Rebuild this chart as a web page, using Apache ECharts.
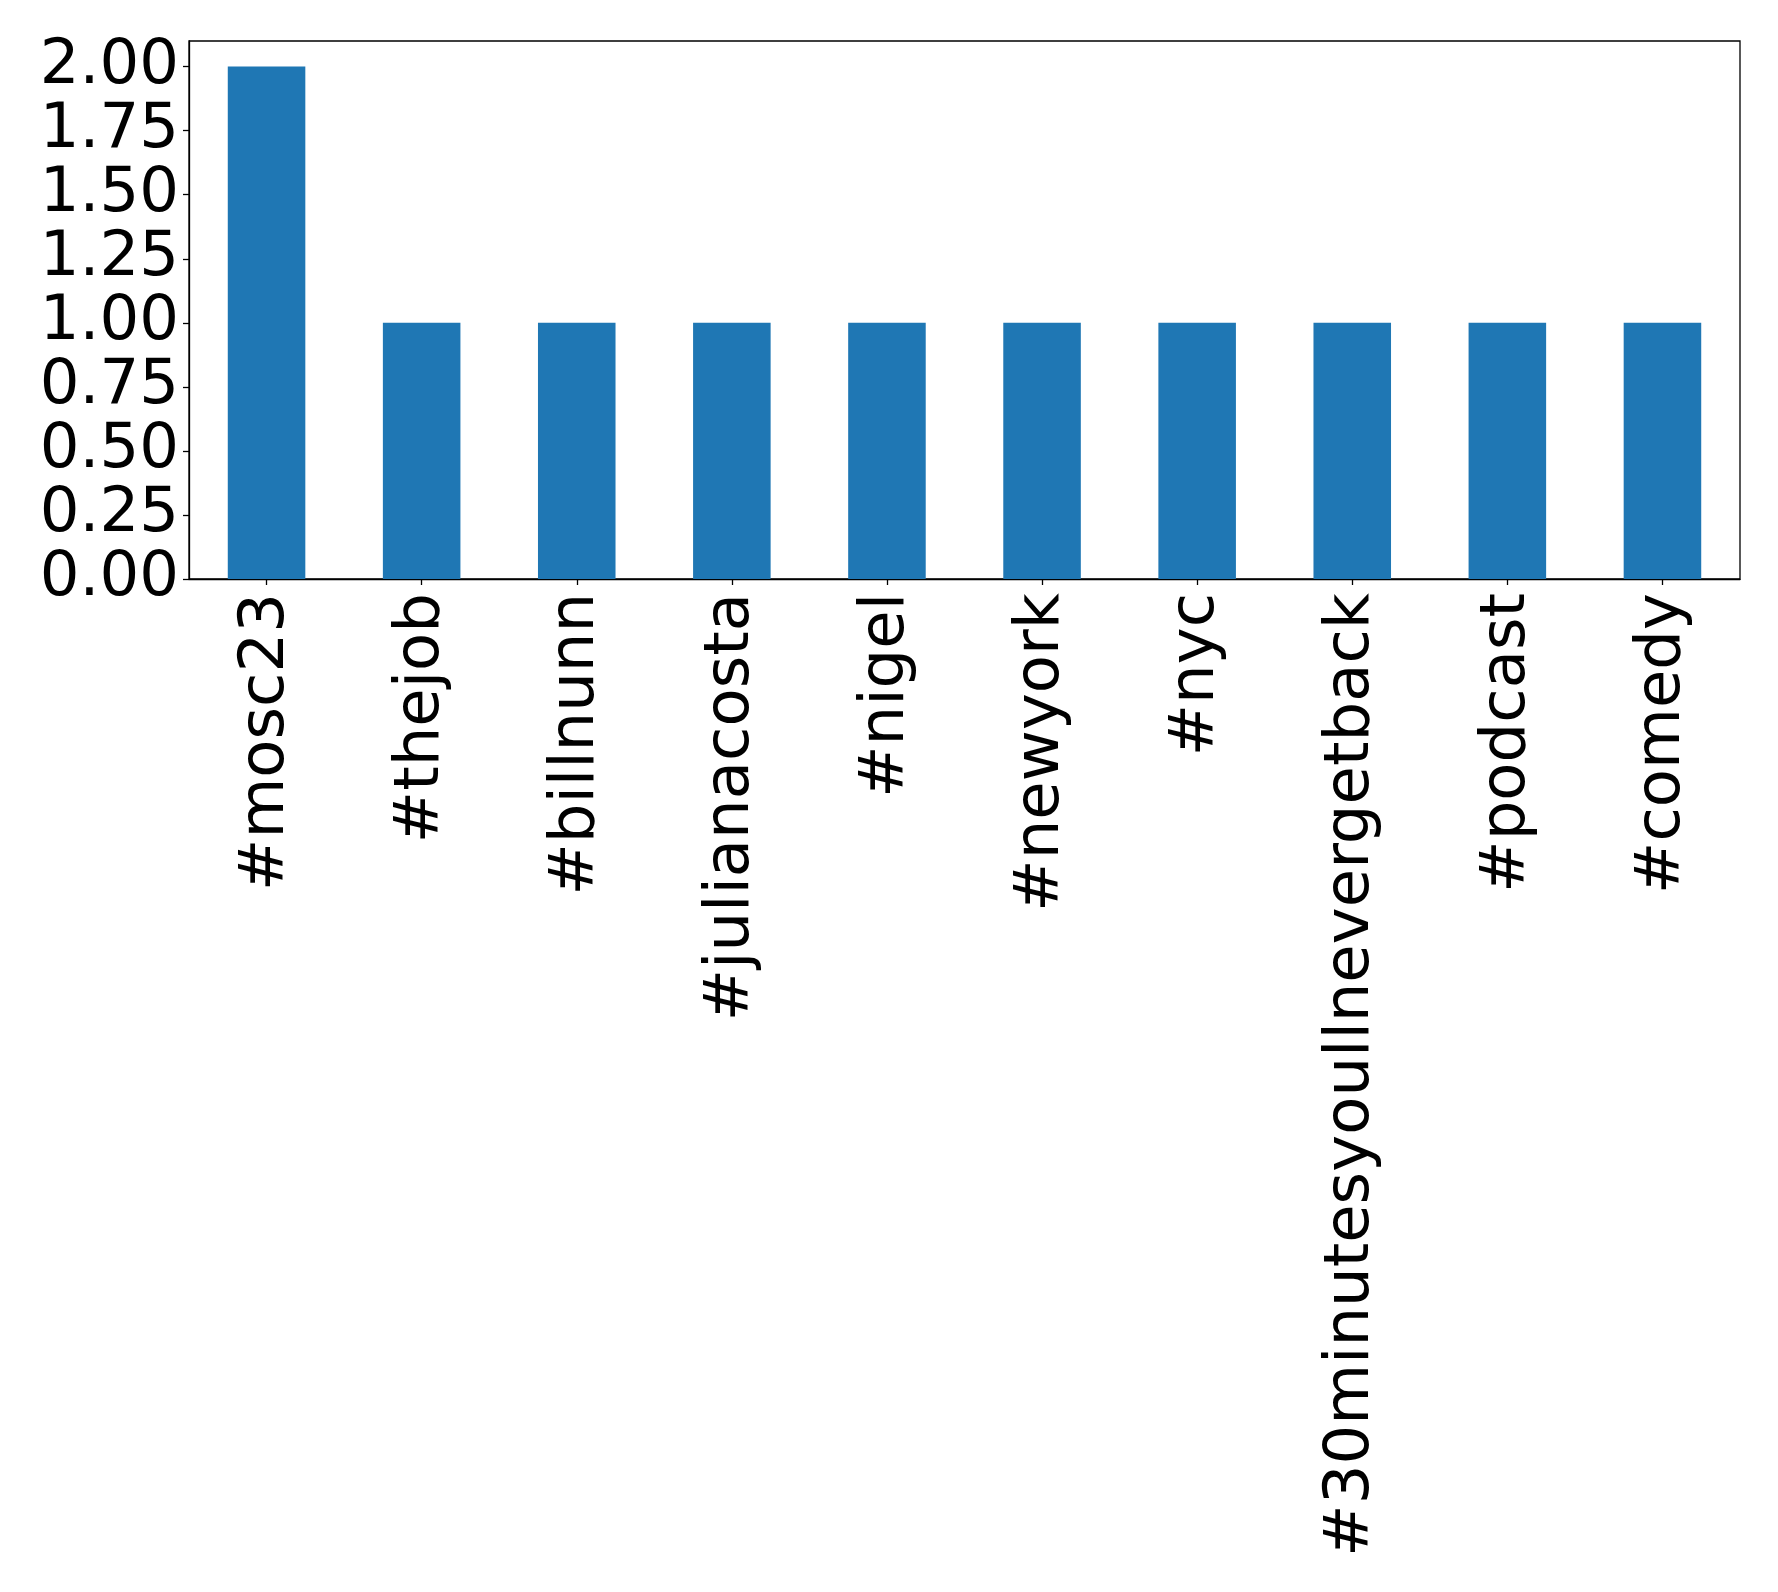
<!DOCTYPE html>
<html>
<head>
<meta charset="utf-8">
<script src="https://cdn.jsdelivr.net/npm/echarts@6/dist/echarts.min.js"></script>
<style>
html,body{margin:0;padding:0;background:#fff;}
#chart{width:1778px;height:1592px;}
</style>
</head>
<body>
<div id="chart"></div>
<script>
const categories = ['#mosc23', '#thejob', '#billnunn', '#julianacosta', '#nigel', '#newyork', '#nyc', '#30minutesyoullnevergetback', '#podcast', '#comedy'];
const counts = [2, 1, 1, 1, 1, 1, 1, 1, 1, 1];
const yTicks = [0, 0.25, 0.5, 0.75, 1.0, 1.25, 1.5, 1.75, 2.0];

const chart = echarts.init(document.getElementById('chart'), null, {renderer: 'canvas'});
const font = 'DejaVu Sans';
chart.setOption({
  backgroundColor: '#ffffff',
  animation: false,
  grid: {
    left: 189, top: 41, right: 38, bottom: 1013,
    show: true, borderColor: '#000', borderWidth: 1.3, backgroundColor: 'transparent'
  },
  xAxis: {
    type: 'category',
    data: categories,
    boundaryGap: true,
    axisLine: {show: true, lineStyle: {color: '#000', width: 1.3}},
    axisTick: {show: true, alignWithLabel: true, length: 6, lineStyle: {color: '#000', width: 1.3}},
    axisLabel: {rotate: 90, interval: 0, margin: 14, color: '#000', fontSize: 62.5, fontFamily: font,
      padding: [7, 0, 0, 0]},
    splitLine: {show: false}
  },
  yAxis: {
    type: 'value',
    min: 0, max: 2.1,
    axisLine: {show: true, lineStyle: {color: '#000', width: 1.3}},
    axisTick: {show: true, length: 6, customValues: yTicks, lineStyle: {color: '#000', width: 1.3}},
    axisLabel: {customValues: yTicks, margin: 10, color: '#000', fontSize: 62.5, fontFamily: font,
      formatter: v => Number(v).toFixed(2)},
    splitLine: {show: false}
  },
  series: [{
    type: 'bar',
    data: counts,
    barWidth: '50%',
    itemStyle: {color: '#1f77b4'}
  }]
});
</script>
</body>
</html>
